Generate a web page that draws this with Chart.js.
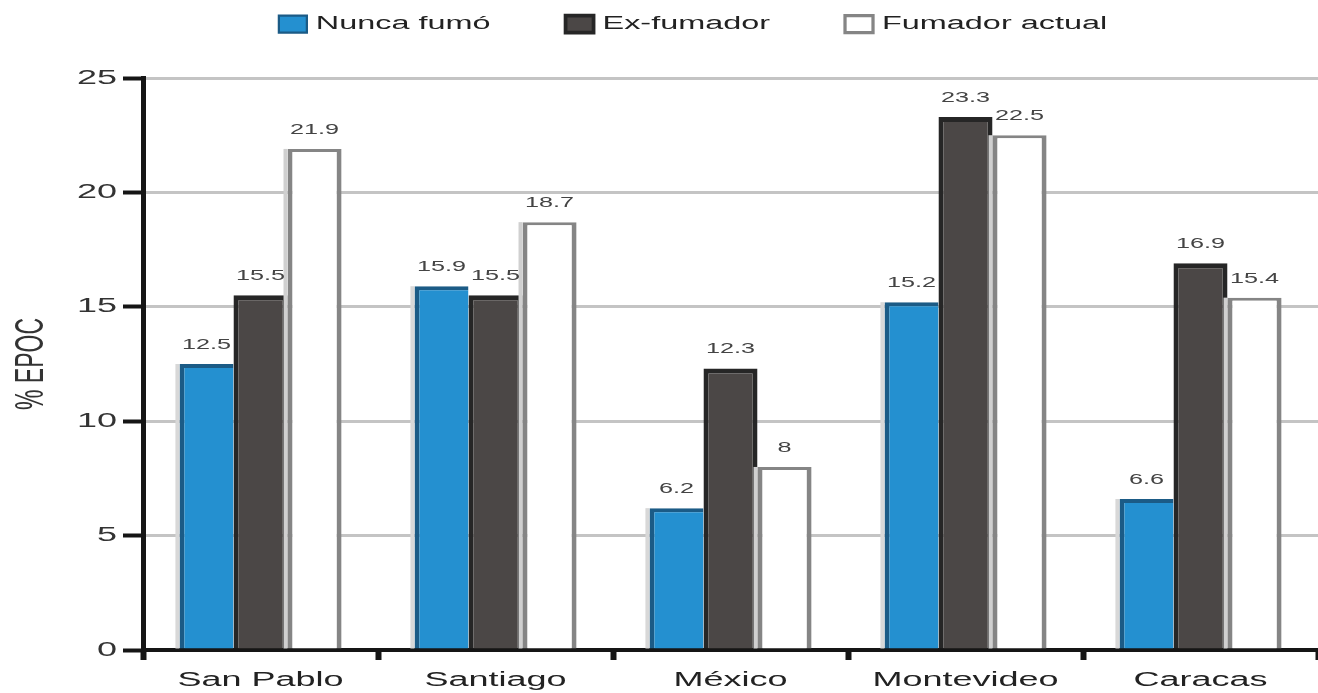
<!DOCTYPE html>
<html>
<head>
<meta charset="utf-8">
<script src="https://cdn.jsdelivr.net/npm/chart.js@4"></script>
<style>
  html, body { margin: 0; padding: 0; background: #fff; }
  #wrap { width: 1318px; height: 693px; }
</style>
</head>
<body>
<div id="wrap"><canvas id="epocChart" width="1318" height="693"></canvas></div>
<script>
const cities = ['San Pablo', 'Santiago', 'México', 'Montevideo', 'Caracas'];
const nuncaFumo = [12.5, 15.9, 6.2, 15.2, 6.6];
const exFumador = [15.5, 15.5, 12.3, 23.3, 16.9];
const fumadorActual = [21.9, 18.7, 8, 22.5, 15.4];
const yTicks = [0, 5, 10, 15, 20, 25];

const FONT = '"Liberation Sans", Arial, sans-serif';
// the original picture is stretched sideways, text included
const TEXT_STRETCH = 1.8;

const canvas = document.getElementById('epocChart');
const ctx2d = canvas.getContext('2d');
const rawFill = ctx2d.fillText.bind(ctx2d);
const rawMeasure = ctx2d.measureText.bind(ctx2d);
ctx2d.fillText = function (text, x, y) {
  const m = this.getTransform();
  const p = m.transformPoint(new DOMPoint(x, y));
  this.save();
  this.setTransform(new DOMMatrix([TEXT_STRETCH, 0, 0, 1, p.x, p.y])
    .multiply(new DOMMatrix([m.a, m.b, m.c, m.d, 0, 0])));
  rawFill(text, 0, 0);
  this.restore();
};
ctx2d.measureText = function (text) {
  const r = rawMeasure(text);
  return {
    width: r.width * TEXT_STRETCH,
    actualBoundingBoxAscent: r.actualBoundingBoxAscent,
    actualBoundingBoxDescent: r.actualBoundingBoxDescent,
    actualBoundingBoxLeft: r.actualBoundingBoxLeft * TEXT_STRETCH,
    actualBoundingBoxRight: r.actualBoundingBoxRight * TEXT_STRETCH
  };
};

// value labels above each bar
const barLabels = {
  id: 'barLabels',
  afterDatasetsDraw(chart) {
    const ctx = chart.ctx;
    ctx.save();
    ctx.font = '14px ' + FONT;
    ctx.fillStyle = '#444';
    ctx.textAlign = 'center';
    ctx.textBaseline = 'bottom';
    chart.data.datasets.forEach((ds, i) => {
      chart.getDatasetMeta(i).data.forEach((bar, j) => {
        ctx.fillText(String(ds.data[j]), bar.x, bar.y - 12);
      });
    });
    ctx.restore();
  }
};

// light strip on the left of the bars, like the original's bevel
const barEdges = {
  id: 'barEdges',
  afterDatasetsDraw(chart) {
    const ctx = chart.ctx;
    ctx.save();
    chart.data.datasets.forEach((ds, i) => {
      if (!ds.edgeColor) return;
      chart.getDatasetMeta(i).data.forEach(bar => {
        const left = bar.x - bar.width / 2;
        ctx.fillStyle = ds.edgeColor;
        ctx.fillRect(left - 4, bar.y, 4, bar.base - bar.y);
      });
    });
    ctx.restore();
  }
};

new Chart(ctx2d, {
  type: 'bar',
  data: {
    labels: cities,
    datasets: [{
      label: 'Nunca fumó',
      data: nuncaFumo,
      backgroundColor: '#2490d0',
      borderColor: '#1b5b86',
      borderWidth: { left: 5, right: 0, top: 4, bottom: 0 },
      edgeColor: '#d8d8d8'
    }, {
      label: 'Ex-fumador',
      data: exFumador,
      backgroundColor: '#4b4746',
      borderColor: '#262626',
      borderWidth: { left: 5, right: 5, top: 5, bottom: 0 },
      edgeColor: null
    }, {
      label: 'Fumador actual',
      data: fumadorActual,
      backgroundColor: '#ffffff',
      borderColor: '#858585',
      borderWidth: { left: 5, right: 5, top: 3, bottom: 0 },
      edgeColor: '#d0d0d0'
    }]
  },
  options: {
    responsive: false,
    animation: false,
    layout: { padding: { top: -60, right: 0, left: 68, bottom: 0 } },
    categoryPercentage: 0.69,
    barPercentage: 1.0,
    plugins: {
      legend: {
        position: 'top',
        labels: {
          boxWidth: 28,
          boxHeight: 17,
          padding: 75,
          color: '#222',
          font: { size: 18, family: FONT }
        }
      },
      // empty spacer between legend and plot
      title: {
        display: true,
        text: '',
        weight: 500,
        font: { size: 1, lineHeight: 1 },
        padding: { top: 0, bottom: 34 }
      },
      tooltip: { enabled: false }
    },
    scales: {
      x: {
        grid: {
          offset: true,
          drawOnChartArea: false,
          tickLength: 10,
          tickColor: '#151515',
          tickWidth: 6
        },
        border: { color: '#151515', width: 4 },
        ticks: {
          color: '#222',
          padding: 8,
          maxRotation: 0,
          font: { size: 20, family: FONT }
        },
        afterFit(scale) { scale.height = 43; }
      },
      y: {
        min: 0,
        max: 25,
        afterBuildTicks(scale) { scale.ticks = yTicks.map(v => ({ value: v })); },
        grid: {
          color: '#c4c4c4',
          lineWidth: 3,
          tickColor: '#151515',
          tickLength: 20,
          tickWidth: 4
        },
        border: { color: '#151515', width: 5 },
        ticks: {
          color: '#333',
          padding: 6,
          font: { size: 20, family: FONT }
        },
        title: {
          display: true,
          text: '% EPOC',
          color: '#333',
          padding: { top: -50, bottom: 0 },
          font: { size: 23, family: FONT }
        },
        afterFit(scale) { scale.width = 75; }
      }
    }
  },
  plugins: [barEdges, barLabels]
});
</script>
</body>
</html>
